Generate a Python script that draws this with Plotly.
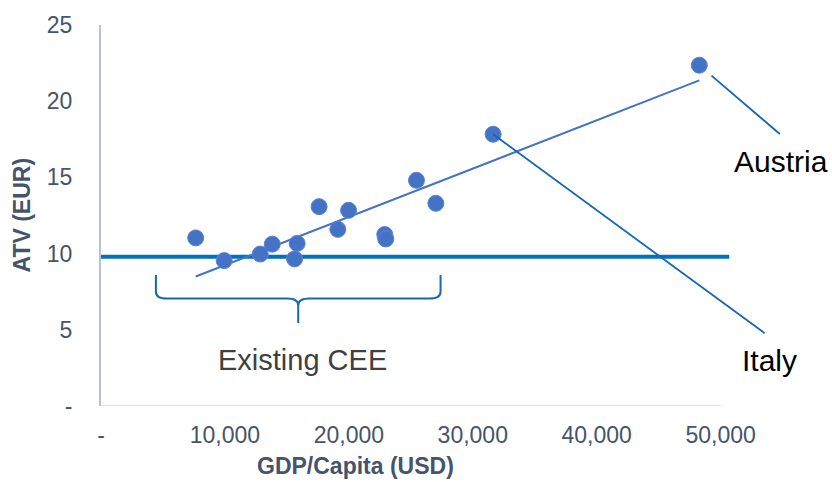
import numpy as np
import plotly.graph_objects as go

# GDP per capita (USD) vs average transaction value (EUR) by country
gdp_per_capita = [7640, 9940, 12850, 13820, 15830, 15620, 17600, 19110, 19980,
                  22900, 22980, 25460, 27020, 31640, 48280]
atv_eur = [11.03, 9.54, 9.97, 10.62, 10.67, 9.65, 13.08, 11.59, 12.84,
           11.25, 10.96, 14.81, 13.30, 17.83, 22.36]

# Reference level across the chart
benchmark_atv = 9.8

# Labelled countries (index into the arrays above)
italy_idx = 13
austria_idx = 14

# Bracket grouping the existing CEE markets
cee_x_start, cee_x_end = 4430, 27400

x_ticks = [0, 10000, 20000, 30000, 40000, 50000]
x_tick_text = ["-", "10,000", "20,000", "30,000", "40,000", "50,000"]
y_ticks = [0, 5, 10, 15, 20, 25]
y_tick_text = ["-", "5", "10", "15", "20", "25"]

FONT = "Liberation Sans, Arial, sans-serif"
AXIS_TEXT = "#44546a"
MARKER_BLUE = "#4472c4"
LINE_BLUE = "#0070c0"
LEADER_BLUE = "#1667b5"

x_arr = np.array(gdp_per_capita, dtype=float)
y_arr = np.array(atv_eur, dtype=float)
slope, intercept = np.polyfit(x_arr, y_arr, 1)
trend_x = np.array([x_arr.min(), x_arr.max()])
trend_y = slope * trend_x + intercept

fig = go.Figure()

# Benchmark line
fig.add_trace(go.Scatter(
    x=[0, 50700], y=[benchmark_atv, benchmark_atv], mode="lines",
    line=dict(color=LINE_BLUE, width=4), hoverinfo="skip", showlegend=False,
))

# Linear trend
fig.add_trace(go.Scatter(
    x=trend_x, y=trend_y, mode="lines",
    line=dict(color=MARKER_BLUE, width=2), hoverinfo="skip", showlegend=False,
))

# Countries
fig.add_trace(go.Scatter(
    x=gdp_per_capita, y=atv_eur, mode="markers",
    marker=dict(size=16, color=MARKER_BLUE, line=dict(color="#5b84cf", width=1)),
    showlegend=False,
))

# Bottom axis line up to 50,000
fig.add_shape(type="line", xref="x", yref="y", x0=0, x1=50000, y0=0, y1=0,
              line=dict(color="#d9dee7", width=2), layer="below")

# Curly bracket under the CEE cluster
mid = (cee_x_start + cee_x_end) / 2
top_y, bar_y, tip_y = 8.6, 7.05, 5.45
r_x, r_y = 900, 0.45
path = (
    f"M {cee_x_start},{top_y} "
    f"L {cee_x_start},{bar_y + r_y} "
    f"Q {cee_x_start},{bar_y} {cee_x_start + r_x},{bar_y} "
    f"L {mid - r_x},{bar_y} "
    f"Q {mid},{bar_y} {mid},{bar_y - r_y} "
    f"L {mid},{tip_y} "
    f"M {mid},{bar_y - r_y} "
    f"Q {mid},{bar_y} {mid + r_x},{bar_y} "
    f"L {cee_x_end - r_x},{bar_y} "
    f"Q {cee_x_end},{bar_y} {cee_x_end},{bar_y + r_y} "
    f"L {cee_x_end},{top_y}"
)
fig.add_shape(type="path", xref="x", yref="y", path=path,
              line=dict(color=LEADER_BLUE, width=2))

annotations = [
    # Leader lines to the labelled countries
    dict(x=gdp_per_capita[italy_idx], y=atv_eur[italy_idx], xref="x", yref="y",
         text="", showarrow=True, arrowhead=0, arrowwidth=1.8,
         arrowcolor=LEADER_BLUE, ax=273, ay=200, standoff=0),
    dict(x=gdp_per_capita[austria_idx], y=atv_eur[austria_idx], xref="x", yref="y",
         text="", showarrow=True, arrowhead=0, arrowwidth=1.8,
         arrowcolor=LEADER_BLUE, ax=82, ay=70, standoff=16),
    dict(x=gdp_per_capita[italy_idx], y=atv_eur[italy_idx], xref="x", yref="y",
         text="Italy", showarrow=False, xshift=276, yshift=-226,
         font=dict(family=FONT, size=30, color="#000000")),
    dict(x=gdp_per_capita[austria_idx], y=atv_eur[austria_idx], xref="x", yref="y",
         text="Austria", showarrow=False, xshift=82, yshift=-96,
         font=dict(family=FONT, size=30, color="#000000")),
    dict(x=mid, y=3.0, xref="x", yref="y", xshift=4, text="Existing CEE", showarrow=False,
         font=dict(family=FONT, size=29, color="#404040")),
    # Axis titles
    dict(x=20500, y=0, xref="x", yref="paper", yanchor="middle", yshift=-60,
         text="<b>GDP/Capita (USD)</b>", showarrow=False,
         font=dict(family=FONT, size=23, color=AXIS_TEXT)),
    dict(x=0, y=0.5, xref="paper", yref="paper", xanchor="center", yanchor="middle",
         xshift=-80, text="<b>ATV (EUR)</b>", textangle=-90, showarrow=False,
         font=dict(family=FONT, size=23, color=AXIS_TEXT)),
]

fig.update_layout(
    width=832, height=482,
    margin=dict(l=101, r=99, t=20, b=76),
    paper_bgcolor="white", plot_bgcolor="white",
    annotations=annotations,
    xaxis=dict(
        range=[0, 51000], tickvals=x_ticks, ticktext=x_tick_text,
        showgrid=False, zeroline=False, showline=False,
        tickfont=dict(family=FONT, size=23, color=AXIS_TEXT),
        ticks="", ticklabelstandoff=13,
    ),
    yaxis=dict(
        range=[0, 25], tickvals=y_ticks, ticktext=y_tick_text,
        showgrid=False, zeroline=False, showline=True,
        linecolor="#b8c2d2", linewidth=2,
        tickfont=dict(family=FONT, size=23, color=AXIS_TEXT),
        ticks="", ticklabelstandoff=22,
    ),
)

fig.write_html("out.html")
